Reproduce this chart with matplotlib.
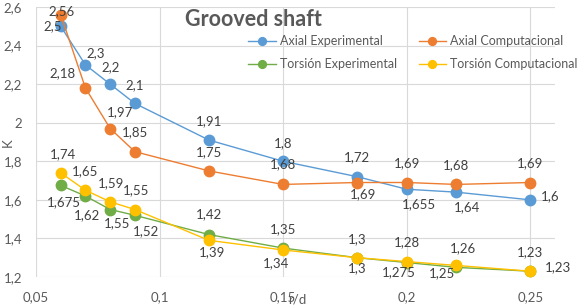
import matplotlib
matplotlib.use('Agg')
import matplotlib.pyplot as plt
from matplotlib.ticker import FuncFormatter

plt.rcParams['font.family'] = ['Lato', 'DejaVu Sans']

r_d = [0.06, 0.07, 0.08, 0.09, 0.12, 0.15, 0.18, 0.2, 0.22, 0.25]

axial_exp = [2.5, 2.3, 2.2, 2.1, 1.91, 1.8, 1.72, 1.655, 1.64, 1.6]
axial_comp = [2.56, 2.18, 1.97, 1.85, 1.75, 1.68, 1.69, 1.69, 1.68, 1.69]
torsion_exp = [1.675, 1.62, 1.55, 1.52, 1.42, 1.35, 1.3, 1.275, 1.25, 1.23]
torsion_comp = [1.74, 1.65, 1.59, 1.55, 1.39, 1.34, 1.3, 1.28, 1.26, 1.23]

series_names = ['Axial Experimental', 'Axial Computacional',
                'Torsión Experimental', 'Torsión Computacional']
colors = ['#5B9BD5', '#ED7D31', '#70AD47', '#FFC000']

# label offsets in pixels (dx right, dy down)
off_axial_exp = [(-8, 0), (10, -12), (0, -17), (0, -18), (0, -19), (0, -18),
                 (0, -20), (12, 15), (11, 15), (20, -4)]
off_axial_comp = [(1, -4), (-23, -15), (10, -16), (0, -19), (0, -19), (0, -20),
                  (6, 12), (0, -19), (0, -19), (0, -19)]
off_torsion_exp = [(3, 17), (2, 19), (7, 14), (11, 16), (0, -20), (0, -19),
                   (0, 10), (-8, 10), (-14, 6), (28, -4)]
off_torsion_comp = [(2, -19), (0, -19), (1, -19), (1, -19), (3, 12), (-7, 13),
                    (0, -19), (0, -19), (7, -17), (0, -19)]

all_series = [axial_exp, axial_comp, torsion_exp, torsion_comp]
all_offsets = [off_axial_exp, off_axial_comp, off_torsion_exp, off_torsion_comp]

dpi = 100
fig = plt.figure(figsize=(5.8, 3.07), dpi=dpi)
ax = fig.add_axes([36 / 580, 1 - 277 / 307, (555 - 36) / 580, (277 - 7) / 307])

px = 72.0 / dpi
for vals, name, col in zip(all_series, series_names, colors):
    ax.plot(r_d, vals, color=col, lw=1.0, marker='o', markersize=7.5,
            markeredgecolor=col, label=name, zorder=3)

for vals, offs in zip(all_series, all_offsets):
    for x, v, (dx, dy) in zip(r_d, vals, offs):
        txt = f'{v:g}'.replace('.', ',')
        ax.annotate(txt, (x, v), xytext=(dx * px, -dy * px), textcoords='offset points',
                    ha='center', va='center', fontsize=9.5, color='#404040', zorder=4)

ax.set_xlim(0.05, 0.26)
ax.set_ylim(1.2, 2.6)
ax.set_xticks([0.05, 0.1, 0.15, 0.2, 0.25])
ax.set_yticks([1.2, 1.4, 1.6, 1.8, 2.0, 2.2, 2.4, 2.6])
fmt = FuncFormatter(lambda v, p: f'{v:g}'.replace('.', ','))
ax.xaxis.set_major_formatter(fmt)
ax.yaxis.set_major_formatter(fmt)
ax.tick_params(length=0, labelsize=9.5, labelcolor='#595959')
ax.tick_params(axis='x', pad=10)
ax.tick_params(axis='y', pad=10)
ax.grid(True, color='#D9D9D9', lw=0.8)
ax.set_axisbelow(True)
for s in ax.spines.values():
    s.set_visible(False)

fig.text(253 / 580, 1 - 20 / 307, 'Grooved shaft', ha='center', va='center',
         fontsize=15.5, fontweight='bold', color='#595959')
fig.text(8 / 580, 1 - 143 / 307, 'K', rotation=90, ha='center', va='center',
         fontsize=9.5, color='#595959')
fig.text(297 / 580, 1 - 300 / 307, 'r/d', ha='center', va='center',
         fontsize=9.5, color='#595959')

h, l = ax.get_legend_handles_labels()
order = [0, 2, 1, 3]
leg = fig.legend([h[i] for i in order], [l[i] for i in order], ncol=2,
                 loc='upper left', bbox_to_anchor=(242 / 580, 1 - 29 / 307),
                 frameon=False, fontsize=9, borderpad=0, handlelength=2.2,
                 handletextpad=0.35, columnspacing=1.7, labelspacing=0.9,
                 markerscale=0.75)
for t in leg.get_texts():
    t.set_color('#595959')

fig.savefig('out.png', dpi=dpi)
